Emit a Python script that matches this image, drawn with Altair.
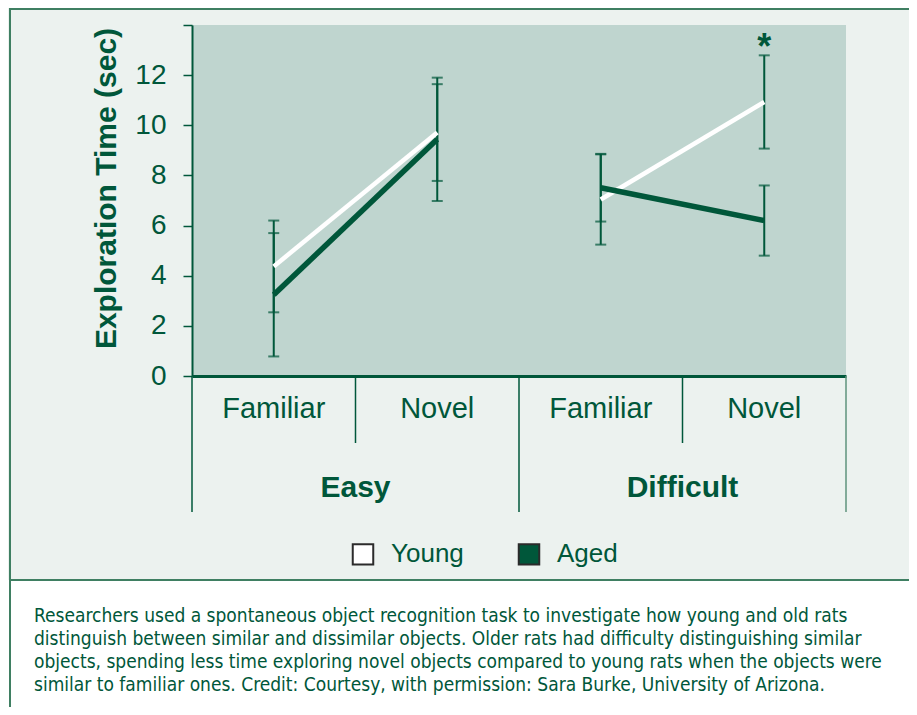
import altair as alt
import pandas as pd

# ---------------- data ----------------
conditions = ["Easy", "Easy", "Difficult", "Difficult"]
objects = ["Familiar", "Novel", "Familiar", "Novel"]
groups = ["Young", "Aged"]
young_mean = [4.37, 9.71, 7.04, 10.93]
young_err = [1.83, 1.93, 1.80, 1.86]
aged_mean = [3.24, 9.44, 7.51, 6.20]
aged_err = [2.46, 2.46, 1.35, 1.40]
y_ticks = [0, 2, 4, 6, 8, 10, 12, 14]
significant_cells = ["Difficult|Novel"]
significant_group = ["Young"]
y_title = "Exploration Time (sec)"
caption_lines = [
    "Researchers used a spontaneous object recognition task to investigate how young and old rats",
    "distinguish between similar and dissimilar objects. Older rats had difficulty distinguishing similar",
    "objects, spending less time exploring novel objects compared to young rats when the objects were",
    "similar to familiar ones. Credit: Courtesy, with permission: Sara Burke, University of Arizona.",
]

# ---------------- styles ----------------
DARK = "#00573a"
BORDER = "#3f7f62"
PANEL = "#ecf2ef"
PLOT = "#bfd5cf"
FONT = "Liberation Sans"
NARROW = "Liberation Sans Narrow, DejaVu Sans Condensed, sans-serif"

rows = []
for g, means, errs in (("Young", young_mean, young_err), ("Aged", aged_mean, aged_err)):
    for c, o, m, e in zip(conditions, objects, means, errs):
        rows.append({"cond": c, "obj": o, "group": g, "mean": m, "err": e})
df = pd.DataFrame(rows)
df["x"] = df["cond"] + "|" + df["obj"]
df["lo"] = df["mean"] - df["err"]
df["hi"] = df["mean"] + df["err"]
cats = list(dict.fromkeys(df["x"]))
conds = list(dict.fromkeys(conditions))

xscale = alt.Scale(domain=cats, paddingInner=0, paddingOuter=0)
xaxis = alt.Axis(
    title=None, ticks=False, tickSize=0, labelAngle=0, labelFontSize=29,
    labelColor=DARK, labelFont=FONT, labelPadding=18,
    labelExpr="split(datum.label, '|')[1]", domainColor=DARK, domainWidth=3,
    grid=False,
)
yscale = alt.Scale(domain=[0, 14], nice=False, zero=True)
yaxis = alt.Axis(
    values=y_ticks, title=y_title, grid=False,
    labelExpr="datum.value == 14 ? '' : datum.label",
    labelFontSize=28, labelColor=DARK, labelFont=FONT, labelPadding=17,
    tickColor=DARK, tickWidth=1.5, tickSize=9, domainColor=DARK, domainWidth=2,
    titleFontSize=30, titleFontWeight="bold", titleColor=DARK, titleFont=FONT,
    titleX=-71, titleY=163, titleAngle=270, titleBaseline="bottom", titleAlign="center",
)


def X(**kw):
    return alt.X("x:N", scale=xscale, axis=xaxis, **kw)


def Y(field):
    return alt.Y(field, scale=yscale, axis=yaxis)


base = alt.Chart(df)
dummy = alt.Chart(pd.DataFrame({"d": [0]}))

# caption area (white) and frame lines
caption_bg = dummy.mark_rect(color="white").encode(
    x=alt.value(-184), x2=alt.value(717), y=alt.value(555), y2=alt.value(682)
)
sep_line = dummy.mark_rule(color=BORDER, strokeWidth=2).encode(
    x=alt.value(-182), x2=alt.value(717), y=alt.value(555)
)
top_line = dummy.mark_rule(color=BORDER, strokeWidth=2).encode(
    x=alt.value(-182), x2=alt.value(717), y=alt.value(-16)
)
left_line = dummy.mark_rule(color=BORDER, strokeWidth=2).encode(
    x=alt.value(-182), y=alt.value(-17), y2=alt.value(682)
)

# category dividers
fam_df = pd.DataFrame({"x": [c + "|Familiar" for c in conds]})
inner_div = alt.Chart(fam_df).mark_rule(color=DARK, strokeWidth=1.5).encode(
    x=X(bandPosition=1), y=alt.value(351), y2=alt.value(418)
)
outer_div = alt.Chart(fam_df).mark_rule(color=DARK, strokeWidth=1.5).encode(
    x=X(bandPosition=0), y=alt.value(351), y2=alt.value(487)
)
last_div = alt.Chart(pd.DataFrame({"x": [cats[-1]]})).mark_rule(
    color="#5f937c", strokeWidth=1.5
).encode(x=X(bandPosition=1), y=alt.value(351), y2=alt.value(487))

group_labels = alt.Chart(fam_df.assign(cond=conds)).mark_text(
    fontSize=30, fontWeight="bold", color=DARK, font=FONT, baseline="alphabetic"
).encode(x=X(bandPosition=1), y=alt.value(472), text="cond:N")

# error bars
err_rule = base.mark_rule(color=DARK, strokeWidth=2).encode(
    x=X(), y=Y("lo:Q"), y2="hi:Q"
)
err_lo = base.mark_tick(color=DARK, size=11, thickness=2).encode(x=X(), y=Y("lo:Q"))
err_hi = base.mark_tick(color=DARK, size=11, thickness=2).encode(x=X(), y=Y("hi:Q"))

# lines
young_line = base.transform_filter(alt.datum.group == "Young").mark_line(
    color="white", strokeWidth=4.5
).encode(x=X(), y=Y("mean:Q"), detail="cond:N")
aged_line = base.transform_filter(alt.datum.group == "Aged").mark_line(
    color=DARK, strokeWidth=5.5
).encode(x=X(), y=Y("mean:Q"), detail="cond:N")

# significance marker
star = base.transform_filter(
    alt.FieldOneOfPredicate(field="x", oneOf=significant_cells)
).transform_filter(
    alt.FieldOneOfPredicate(field="group", oneOf=significant_group)
).mark_text(
    text="*", fontSize=36, fontWeight="bold", color=DARK, font=FONT,
    baseline="alphabetic", dy=4
).encode(x=X(), y=Y("hi:Q"))

# legend carrier (invisible marks)
legend_layer = base.mark_point(shape="square", filled=True, opacity=0).encode(
    x=X(), y=Y("mean:Q"),
    fill=alt.Fill(
        "group:N",
        scale=alt.Scale(domain=groups, range=["white", DARK]),
        legend=alt.Legend(
            orient="none", legendX=158, legendY=516, direction="horizontal",
            title=None, symbolType="square", symbolSize=420,
            symbolStrokeColor="#2b2b2b", symbolStrokeWidth=2, symbolOpacity=1,
            labelFontSize=26, labelFont=FONT, labelColor=DARK, labelOffset=15,
            columnPadding=50, padding=0,
        ),
    ),
)

caption = alt.Chart(pd.DataFrame({"caption": ["\n".join(caption_lines)]})).mark_text(
    lineBreak="\n", align="left", baseline="alphabetic", lineHeight=23,
    font=NARROW, fontSize=19, color=DARK,
).encode(x=alt.value(-158), y=alt.value(596.5), text="caption:N")

chart = alt.layer(
    caption_bg, sep_line, top_line, left_line,
    inner_div, outer_div, last_div, group_labels,
    err_rule, err_lo, err_hi, legend_layer,
    young_line, aged_line, star, caption,
).properties(
    width=654, height=351,
    padding={"left": 184, "top": 17, "right": 63, "bottom": 331},
    autosize=alt.AutoSizeParams(type="none"),
).configure(
    background=PANEL, font=FONT
).configure_view(
    fill=PLOT, stroke=None
)

chart.save("out.html", embed_options={"renderer": "svg", "actions": False})
